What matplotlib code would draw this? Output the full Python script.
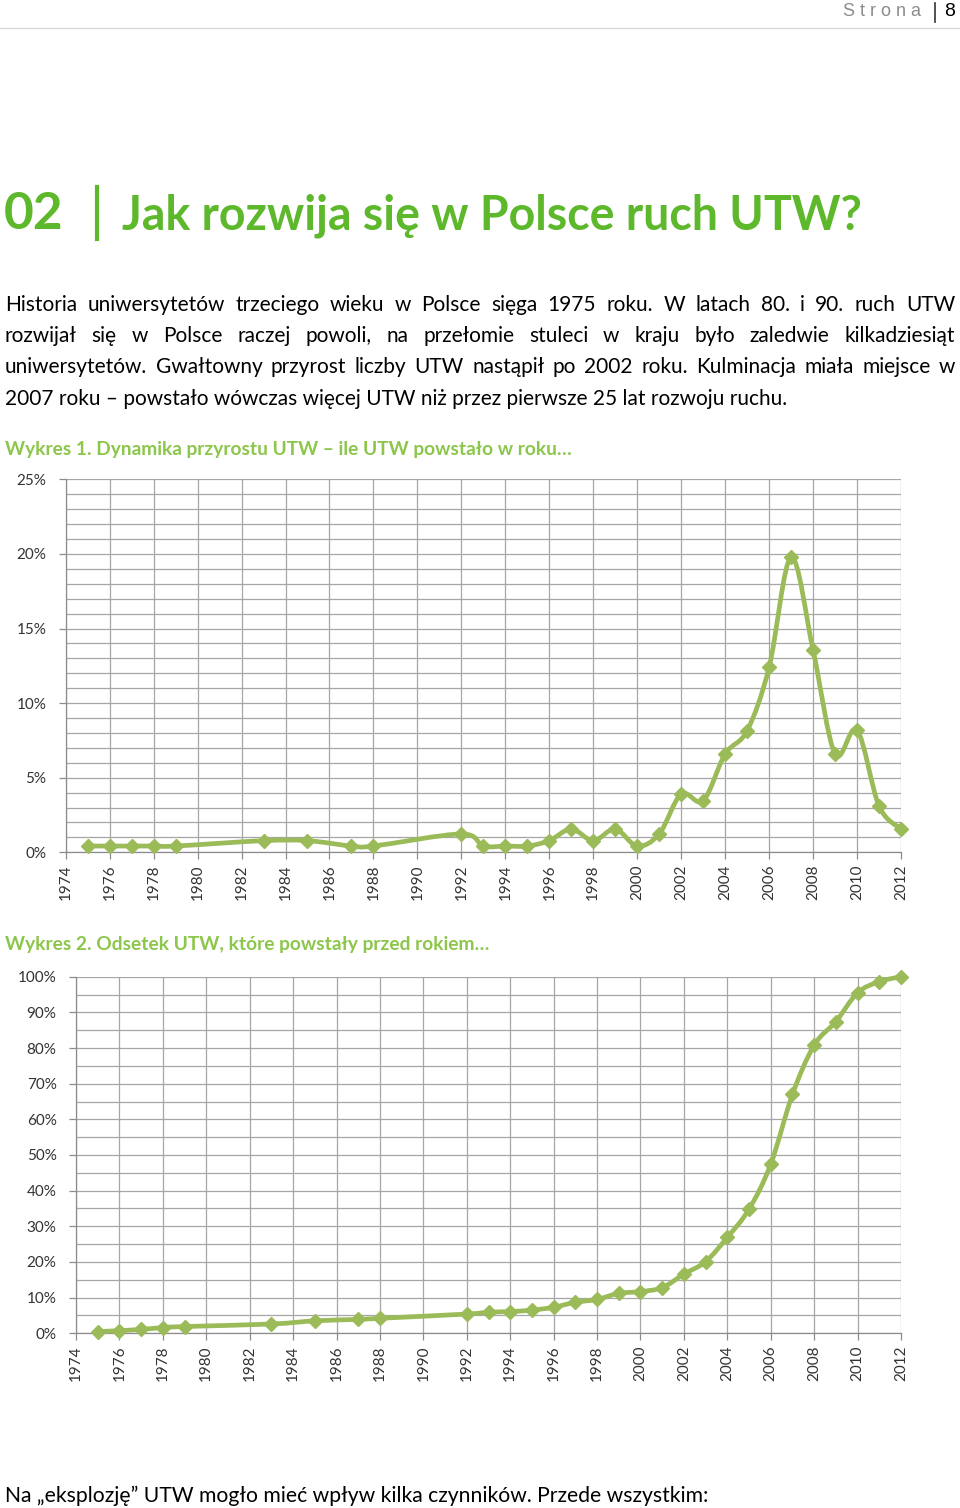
import matplotlib
matplotlib.use('Agg')
import matplotlib.pyplot as plt
from matplotlib.path import Path
from matplotlib.patches import PathPatch
from matplotlib.lines import Line2D
from matplotlib.ticker import MultipleLocator, FuncFormatter

plt.rcParams['font.family'] = ['Lato', 'DejaVu Sans']

# dane
lata = [1975, 1976, 1977, 1978, 1979, 1983, 1985, 1987, 1988, 1992,
        1993, 1994, 1995, 1996, 1997, 1998, 1999, 2000, 2001, 2002,
        2003, 2004, 2005, 2006, 2007, 2008, 2009, 2010, 2011, 2012]
przyrost = [0.42, 0.42, 0.42, 0.42, 0.42, 0.78, 0.78, 0.42, 0.42, 1.23,
            0.42, 0.42, 0.42, 0.78, 1.56, 0.78, 1.56, 0.42, 1.23, 3.9,
            3.46, 6.59, 8.15, 12.4, 19.77, 13.56, 6.59, 8.19, 3.1, 1.56]
skumulowany = [0.47, 0.75, 1.1, 1.6, 1.9, 2.6, 3.5, 3.9, 4.2, 5.4,
               5.9, 6.1, 6.5, 7.3, 8.7, 9.5, 11.2, 11.7, 12.8, 16.6,
               20.1, 26.9, 34.8, 47.4, 67.0, 80.8, 87.4, 95.5, 98.6, 100]
lata_osi = list(range(1974, 2013, 2))

naglowek = "Jak rozwija się w Polsce ruch UTW?"
akapit = ["Historia uniwersytetów trzeciego wieku w Polsce sięga 1975 roku. W latach 80. i 90. ruch UTW",
          "rozwijał się w Polsce raczej powoli, na przełomie stuleci w kraju było zaledwie kilkadziesiąt",
          "uniwersytetów. Gwałtowny przyrost liczby UTW nastąpił po 2002 roku. Kulminacja miała miejsce w",
          "2007 roku – powstało wówczas więcej UTW niż przez pierwsze 25 lat rozwoju ruchu."]
tytul1 = "Wykres 1. Dynamika przyrostu UTW – ile UTW powstało w roku…"
tytul2 = "Wykres 2. Odsetek UTW, które powstały przed rokiem…"
stopka = "Na „eksplozję” UTW mogło mieć wpływ kilka czynników. Przede wszystkim:"

W, H = 960, 1508
ZIELONY = '#5db82c'
ZIELONY2 = '#8cc64b'
LINIA = '#9bbb59'
SIATKA = '#a6a6a6'

fig = plt.figure(figsize=(W / 100, H / 100), dpi=100)
r = fig.canvas.get_renderer()


def fx(x):
    return x / W


def fy(y):
    return 1 - y / H


def lisse(ax, x, y, **kw):
    # wygladzona linia (Bezier) jak w Excelu
    pts = list(zip(x, y))
    n = len(pts)
    verts = [pts[0]]
    codes = [Path.MOVETO]
    for i in range(n - 1):
        p0 = pts[max(i - 1, 0)]
        p1 = pts[i]
        p2 = pts[i + 1]
        p3 = pts[min(i + 2, n - 1)]
        c1 = (p1[0] + (p2[0] - p0[0]) / 6, p1[1] + (p2[1] - p0[1]) / 6)
        c2 = (p2[0] - (p3[0] - p1[0]) / 6, p2[1] - (p3[1] - p1[1]) / 6)
        verts += [c1, c2, p2]
        codes += [Path.CURVE4] * 3
    ax.add_patch(PathPatch(Path(verts, codes), fill=False, **kw))


def wykres(left, right, top, bottom, y, ymax, major, minor):
    ax = fig.add_axes([fx(left), fy(bottom), (right - left) / W, (bottom - top) / H])
    ax.set_xlim(1974, 2012)
    ax.set_ylim(0, ymax)
    ax.set_xticks(lata_osi)
    ax.yaxis.set_major_locator(MultipleLocator(major))
    ax.yaxis.set_minor_locator(MultipleLocator(minor))
    ax.yaxis.set_major_formatter(FuncFormatter(lambda v, p: '%d%%' % round(v)))
    ax.grid(which='both', axis='y', color=SIATKA, lw=0.9)
    ax.grid(which='major', axis='x', color=SIATKA, lw=0.9)
    ax.set_axisbelow(True)
    for s in ['top', 'right']:
        ax.spines[s].set_visible(False)
    for s in ['left', 'bottom']:
        ax.spines[s].set_color('#8c8c8c')
        ax.spines[s].set_linewidth(0.9)
    ax.tick_params(which='major', length=5, width=0.9, color='#8c8c8c',
                   labelsize=11, labelcolor='#333333')
    ax.tick_params(which='minor', length=0)
    ax.tick_params(axis='y', pad=9)
    ax.tick_params(axis='x', rotation=90, pad=4)
    lisse(ax, lata, y, color=LINIA, lw=3.4, zorder=3, clip_on=False)
    ax.plot(lata, y, 'D', color=LINIA, ms=7.5, zorder=4, clip_on=False)
    return ax


def justuj(linia, y, x0=5, x1=955, **kw):
    slowa = linia.split()
    teksty = [fig.text(0, fy(y), s, **kw) for s in slowa]
    szer = [t.get_window_extent(r).width for t in teksty]
    odstep = (x1 - x0 - sum(szer)) / (len(slowa) - 1)
    x = x0
    for t, w in zip(teksty, szer):
        t.set_x(fx(x))
        x += w + odstep


# naglowek strony
fig.text(fx(921), fy(12), "S t r o n a", ha='right', va='center', fontsize=13,
         color='#8c8c8c', family='Liberation Sans')
fig.add_artist(Line2D([fx(935)] * 2, [fy(3), fy(22)], color='#333333', lw=1.2))
fig.text(fx(944), fy(12), "8", ha='left', va='center', fontsize=14, color='black',
         family='Liberation Sans')
fig.add_artist(Line2D([0, 1], [fy(28)] * 2, color='#d9d9d9', lw=1))

# tytul rozdzialu
fig.text(fx(4), fy(229), "02", fontsize=37, fontweight='bold', color=ZIELONY, va='baseline')
fig.add_artist(Line2D([fx(97)] * 2, [fy(187), fy(239)], color=ZIELONY, lw=3))
fig.text(fx(122), fy(230), naglowek, fontsize=33.5, fontweight='bold', color=ZIELONY, va='baseline')

# akapit
baseline = [311, 342, 373, 405]
for i, linia in enumerate(akapit):
    if i < len(akapit) - 1:
        justuj(linia, baseline[i], fontsize=15, va='baseline', color='black')
    else:
        fig.text(fx(5), fy(baseline[i]), linia, fontsize=15, va='baseline', color='black')

fig.text(fx(5), fy(455), tytul1, fontsize=13.8, fontweight='bold', color=ZIELONY2, va='baseline')
wykres(65.7, 901, 479.3, 852.3, przyrost, 25, 5, 1)

fig.text(fx(5), fy(950), tytul2, fontsize=13.8, fontweight='bold', color=ZIELONY2, va='baseline')
wykres(76, 901, 976.7, 1333.3, skumulowany, 100, 10, 5)

fig.text(fx(5), fy(1502), stopka, fontsize=15.2, va='baseline', color='black')

fig.savefig('out.png', dpi=100)
